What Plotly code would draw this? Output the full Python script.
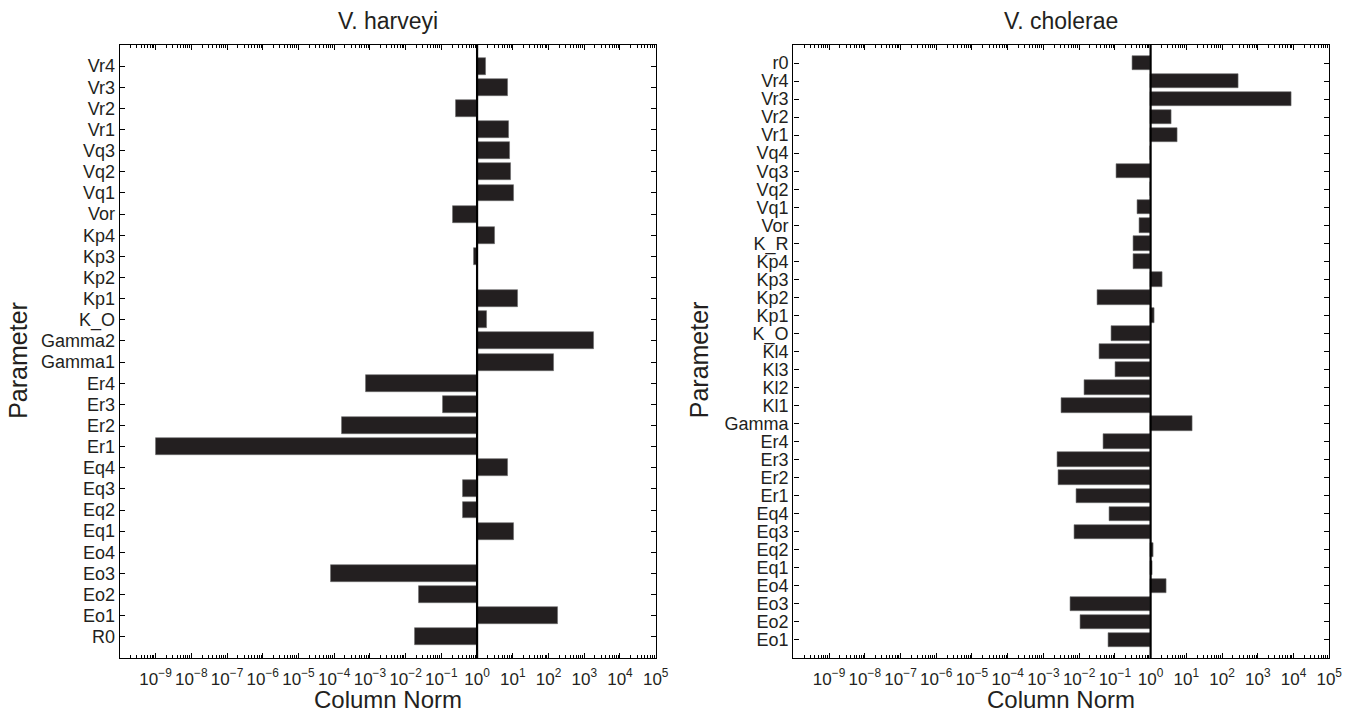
import plotly.graph_objects as go

# ---------------- data ----------------
harveyi_params = ["R0", "Eo1", "Eo2", "Eo3", "Eo4", "Eq1", "Eq2", "Eq3", "Eq4",
                  "Er1", "Er2", "Er3", "Er4", "Gamma1", "Gamma2", "K_O", "Kp1",
                  "Kp2", "Kp3", "Kp4", "Vor", "Vq1", "Vq2", "Vq3", "Vr1", "Vr2",
                  "Vr3", "Vr4"]
harveyi_norm = [0.018, 187, 0.024, 7.9e-5, 1.0, 10.7, 0.39, 0.39, 7.3,
                1.0e-9, 1.6e-4, 0.11, 7.6e-4, 138, 1900, 1.9, 13.5,
                0.99, 0.82, 3.2, 0.21, 10.5, 9.0, 8.3, 7.9, 0.25,
                7.3, 1.8]

cholerae_params = ["Eo1", "Eo2", "Eo3", "Eo4", "Eq1", "Eq2", "Eq3", "Eq4",
                   "Er1", "Er2", "Er3", "Er4", "Gamma", "Kl1", "Kl2", "Kl3",
                   "Kl4", "K_O", "Kp1", "Kp2", "Kp3", "Kp4", "K_R", "Vor",
                   "Vq1", "Vq2", "Vq3", "Vq4", "Vr1", "Vr2", "Vr3", "Vr4", "r0"]
cholerae_norm = [0.064, 0.0105, 0.0055, 2.7, 1.1, 1.17, 0.0075, 0.071,
                 0.0082, 0.0027, 0.0024, 0.047, 14.8, 0.0031, 0.014, 0.1,
                 0.036, 0.082, 1.3, 0.032, 2.1, 0.34, 0.32, 0.47,
                 0.42, 0.97, 0.108, 0.97, 5.7, 3.9, 8800, 280, 0.30]

tick_exps = list(range(-9, 6))
tick_text = ["10<sup>" + (str(e) if e >= 0 else "\u2212" + str(-e)) + "</sup>" for e in tick_exps]

FONT = "Liberation Sans, Arial, Helvetica, sans-serif"
TXT = "#231f20"
BAR_COLOR = "#231f20"

fig = go.Figure()


def add_panel(params, values, xa, ya):
    pos = list(range(1, len(params) + 1))
    base = [min(v, 1.0) for v in values]
    size = [abs(v - 1.0) for v in values]
    fig.add_trace(go.Bar(
        orientation="h", y=pos, x=size, base=base, width=0.8,
        marker=dict(color=BAR_COLOR, line=dict(color="#6b6b6b", width=0.6)),
        xaxis=xa, yaxis=ya, showlegend=False, hoverinfo="skip"))


add_panel(harveyi_params, harveyi_norm, "x", "y")
add_panel(cholerae_params, cholerae_norm, "x2", "y2")

minor_vals = [m * 10.0 ** e for e in range(-10, 5) for m in range(2, 10)]

xaxis_common = dict(
    type="log", range=[-10, 5], tickvals=[10.0 ** e for e in tick_exps],
    ticktext=tick_text, ticks="inside", ticklen=5, tickwidth=1, tickcolor="black",
    showline=True, linecolor="black", linewidth=1.3, mirror="ticks",
    showgrid=False, zeroline=False, ticklabelstandoff=5, tickangle=0,
    tickfont=dict(family=FONT, size=17, color=TXT),
    minor=dict(tickvals=minor_vals, ticks="inside", ticklen=2.5, tickwidth=0.8,
               tickcolor="black", showgrid=False),
)

yaxis_common = dict(
    ticks="inside", ticklen=5, tickwidth=1, tickcolor="black",
    showline=True, linecolor="black", linewidth=1.3, mirror="ticks",
    showgrid=False, zeroline=False,
    tickfont=dict(family=FONT, size=18, color=TXT),
)

y_top, y_bot = 1 - 45 / 715, 1 - 658 / 715


def ann(text, x, y, size, angle=0):
    return dict(text=text, x=x / 1364, y=1 - y / 715, xref="paper", yref="paper",
                xanchor="center", yanchor="middle", showarrow=False, textangle=angle,
                font=dict(size=size, family=FONT, color=TXT))


fig.update_layout(
    width=1364, height=715, margin=dict(l=0, r=0, t=0, b=0),
    paper_bgcolor="white", plot_bgcolor="white",
    bargap=0, font=dict(family=FONT, color=TXT),
    xaxis=dict(domain=[121 / 1364, 662 / 1364], anchor="y", **xaxis_common),
    yaxis=dict(domain=[y_bot, y_top], anchor="x", range=[0, len(harveyi_params) + 1],
               tickvals=list(range(1, len(harveyi_params) + 1)), ticktext=harveyi_params,
               **yaxis_common),
    xaxis2=dict(domain=[801 / 1364, 1342 / 1364], anchor="y2", **xaxis_common),
    yaxis2=dict(domain=[y_bot, y_top], anchor="x2", range=[0, len(cholerae_params) + 1],
                tickvals=list(range(1, len(cholerae_params) + 1)), ticktext=cholerae_params,
                **yaxis_common),
    shapes=[
        dict(type="line", xref="x", yref="y domain", x0=1, x1=1, y0=0, y1=1,
             line=dict(color="black", width=2.2)),
        dict(type="line", xref="x2", yref="y2 domain", x0=1, x1=1, y0=0, y1=1,
             line=dict(color="black", width=2.2)),
    ],
    annotations=[
        ann("V. harveyi", 391.5, 21, 23),
        ann("V. cholerae", 1071.5, 21, 23),
        ann("Column Norm", 391.5, 699, 24),
        ann("Column Norm", 1071.5, 699, 24),
        ann("Parameter", 18, 360, 25, -90),
        ann("Parameter", 706, 360, 25, -90),
    ],
)

fig.write_html("out.html")
